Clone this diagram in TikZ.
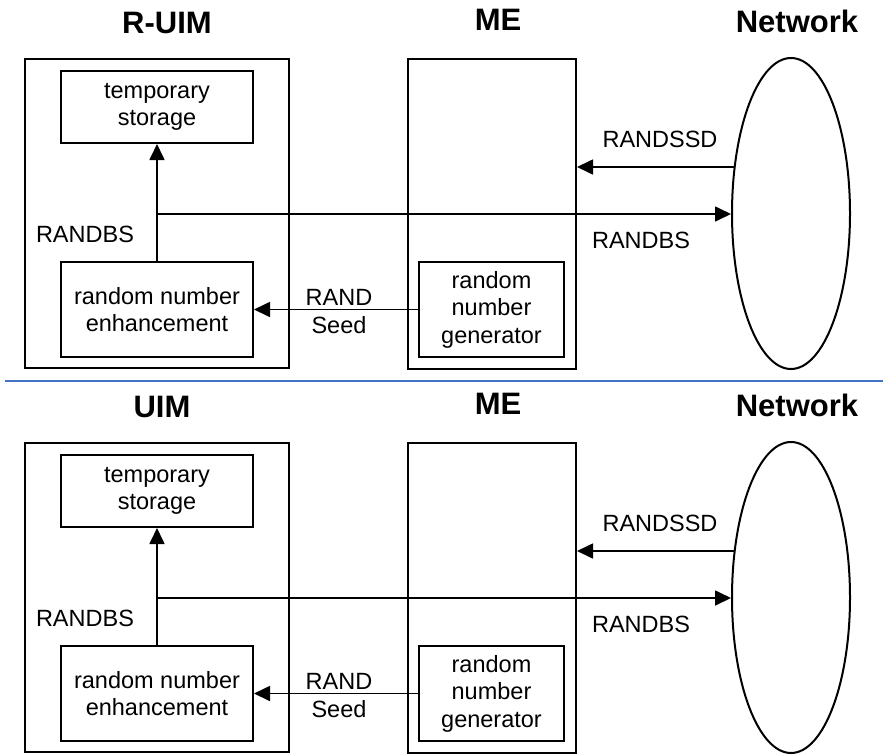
\documentclass[tikz,border=0pt]{standalone}
\usepackage{fontspec}
\setmainfont{Liberation Sans}
\usetikzlibrary{arrows.meta,shapes.geometric}
\definecolor{sepblue}{RGB}{68,114,196}
\begin{document}
\begin{tikzpicture}[x=1pt,y=-1pt,
  txt/.style={font=\fontsize{23.5}{27.5}\selectfont, inner sep=0},
  ttl/.style={font=\fontsize{31}{36}\selectfont\bfseries, inner sep=0, anchor=base},
  lbl/.style={txt, anchor=base},
  frame/.style={draw, line width=2pt, inner sep=0},
  inbox/.style={draw, line width=2pt, inner sep=0, align=center, txt},
  netshape/.style={ellipse, draw, line width=2pt, inner sep=0, minimum width=118, minimum height=311},
  conn/.style={line width=1.7pt, -{Triangle[length=16pt,width=15pt]}}
]
\useasboundingbox (0,0) rectangle (883,755);
\fill[white] (0,0) rectangle (883,755);
\foreach \p/\t/\tx/\dy in {a/R-UIM/167/0, b/UIM/162/384} {
\begin{scope}[shift={(0,\dy)}]
  \node[ttl] (title\p) at (\tx,33) {\t};
  \node[ttl] (metitle\p) at (498,30.5) {ME};
  \node[ttl] (nettitle\p) at (797,32.5) {Network};
  \node[frame, minimum width=264, minimum height=309] (uim\p) at (157,213.5) {};
  \node[frame, minimum width=168, minimum height=310] (me\p) at (492,214) {};
  \node[inbox, minimum width=192, minimum height=72] (st\p) at (157,107) {temporary\\storage};
  \node[inbox, minimum width=192, minimum height=95] (en\p) at (157,309.5) {random number\\enhancement};
  \node[inbox, minimum width=145, minimum height=95] (rg\p) at (491.5,309.5) {random\\number\\generator};
  \node[netshape] (net\p) at (791,213.5) {};
  \coordinate (j\p) at (157,214);
  \coordinate (s\p) at (734.5,167);
  \draw[conn] (en\p.north) -- (st\p.south);
  \draw[conn] (j\p) -- (j\p -| net\p.west);
  \draw[conn] (s\p) -- (s\p -| me\p.east);
  \draw[conn] (rg\p.west) -- (en\p.east);
  \node[lbl] (lbsl\p) at (85,242) {RANDBS};
  \node[lbl] (lbsr\p) at (641,248) {RANDBS};
  \node[lbl] (lssd\p) at (660,147) {RANDSSD};
  \node[lbl] (lrand\p) at (339,305) {RAND};
  \node[lbl] (lseed\p) at (339,333) {Seed};
\end{scope}
}
\coordinate (sepL) at (5,381);
\coordinate (sepR) at (883,381);
\draw[sepblue, line width=2.5pt] (sepL) -- (sepR);
\end{tikzpicture}
\end{document}
